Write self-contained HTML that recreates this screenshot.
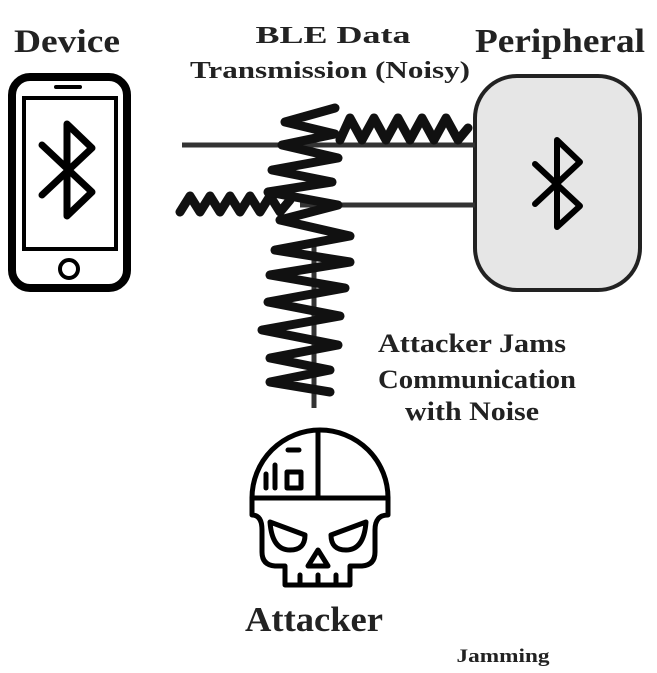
<!DOCTYPE html>
<html><head><meta charset="utf-8"><style>
body{margin:0;background:#fff;}
svg{display:block;font-family:"Liberation Serif",serif;font-weight:bold;}
</style></head><body>
<svg width="657" height="673" viewBox="0 0 657 673">
<text x="67" y="52" font-size="33" text-anchor="middle" textLength="106" lengthAdjust="spacingAndGlyphs" fill="#222">Device</text>
<text x="560" y="52" font-size="34" text-anchor="middle" textLength="170" lengthAdjust="spacingAndGlyphs" fill="#222">Peripheral</text>
<text x="333" y="43" font-size="24" text-anchor="middle" textLength="155" lengthAdjust="spacingAndGlyphs" fill="#222">BLE Data</text>
<text x="330" y="78" font-size="24" text-anchor="middle" textLength="280" lengthAdjust="spacingAndGlyphs" fill="#222">Transmission (Noisy)</text>

<g fill="none" stroke="#000">
<rect x="12" y="77" width="115" height="211" rx="18" stroke-width="8"/>
<rect x="24" y="98" width="92" height="151" stroke-width="4"/>
<line x1="56" y1="87" x2="80" y2="87" stroke-width="4" stroke-linecap="round"/>
<circle cx="69" cy="269" r="9" stroke-width="4"/>
<polyline points="42,145 92,192 67,216 67,124 92,148 42,195" stroke-width="7" stroke-linejoin="round" stroke-linecap="round"/>
</g>

<g>
<rect x="475" y="76" width="165" height="214" rx="42" fill="#e6e6e6" stroke="#222" stroke-width="4"/>
<polyline points="535,164 580,206 557,227 557,140 580,162 535,204" fill="none" stroke="#000" stroke-width="6" stroke-linejoin="round" stroke-linecap="round"/>
</g>

<g stroke="#333" stroke-width="5">
<line x1="182" y1="145" x2="475" y2="145"/>
<line x1="300" y1="205" x2="475" y2="205"/>
<line x1="314" y1="240" x2="314" y2="408"/>
</g>

<g fill="none" stroke="#111" stroke-width="9" stroke-linejoin="round" stroke-linecap="round">
<polyline points="340,140 350,118 362,140 374,118 386,140 398,118 410,140 422,118 434,140 446,118 458,140 468,128"/>
<polyline points="180,212 190,196 200,212 210,196 220,212 230,196 240,212 250,196 260,212 270,196 280,212 290,200"/>
<polyline points="335,108 285,122 335,134 282,145 338,158 272,170 332,182 268,192 338,205 280,220 350,236 275,250 350,262 270,275 345,288 268,302 340,316 262,330 338,345 270,358 330,370 270,382 330,392"/>
</g>

<g font-size="26" text-anchor="middle" fill="#222">
<text x="472" y="352" textLength="188" lengthAdjust="spacingAndGlyphs">Attacker Jams</text>
<text x="477" y="388" textLength="198" lengthAdjust="spacingAndGlyphs">Communication</text>
<text x="472" y="420" textLength="134" lengthAdjust="spacingAndGlyphs">with Noise</text>
</g>

<g fill="none" stroke="#000" stroke-width="5" stroke-linejoin="round" stroke-linecap="round">
<path d="M252,498 A68,68 0 0 1 388,498"/>
<line x1="252" y1="498" x2="388" y2="498"/>
<line x1="318" y1="432" x2="318" y2="498"/>
<path d="M252,498 L252,515 Q262,515 262,530 L262,552 Q262,565 275,566 L285,566 L285,585 L350,585 L350,566 L362,566 Q375,565 375,552 L375,530 Q375,515 388,515 L388,498"/>
<path d="M270,522 L305,535 Q305,550 290,550 Q272,550 270,522 Z"/>
<path d="M366,522 L331,535 Q331,550 346,550 Q364,550 366,522 Z"/>
<path d="M318,550 L308,566 L328,566 Z"/>
<line x1="300" y1="575" x2="300" y2="585"/><line x1="318" y1="575" x2="318" y2="585"/><line x1="336" y1="575" x2="336" y2="585"/>
<line x1="266" y1="474" x2="266" y2="488"/><line x1="275" y1="465" x2="275" y2="488"/>
<rect x="287" y="472" width="14" height="16"/>
<line x1="288" y1="450" x2="299" y2="450"/>
</g>

<text x="314" y="631" font-size="35" text-anchor="middle" textLength="138" lengthAdjust="spacingAndGlyphs" fill="#222">Attacker</text>
<text x="503" y="662" font-size="19" text-anchor="middle" textLength="93" lengthAdjust="spacingAndGlyphs" fill="#222">Jamming</text>
</svg>
</body></html>
